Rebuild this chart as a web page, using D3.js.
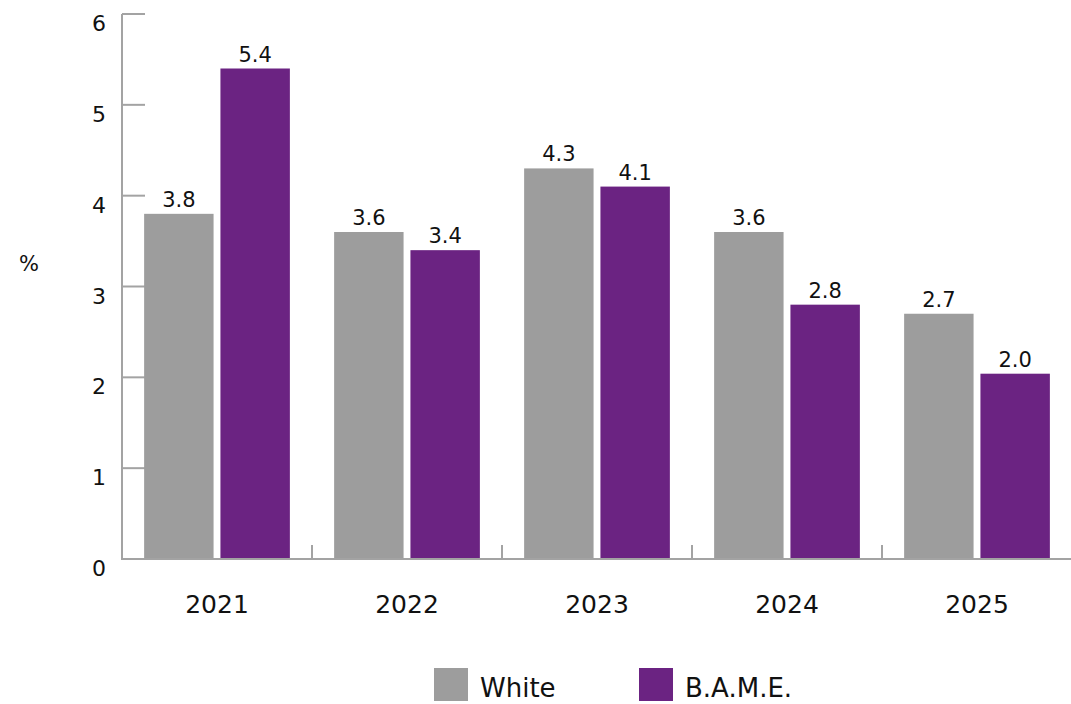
<!DOCTYPE html>
<html>
<head>
<meta charset="utf-8">
<script src="https://cdn.jsdelivr.net/npm/d3@7"></script>
<style>
  body { margin: 0; background: #fff; }
  text { font-family: "DejaVu Sans", "Verdana", sans-serif; fill: #111; }
</style>
</head>
<body>
<svg id="svg" width="1071" height="704"></svg>
<script>
const years = ["2021", "2022", "2023", "2024", "2025"];
const white = [3.8, 3.6, 4.3, 3.6, 2.7];
const bame = [5.4, 3.4, 4.1, 2.8, 2.04];
const seriesNames = ["White", "B.A.M.E."];
const seriesColors = ["#9d9d9d", "#6b2382"];
const yTicks = [0, 1, 2, 3, 4, 5, 6];

const svg = d3.select("#svg");
const plotLeft = 122, plotRight = 1072, plotTop = 14, plotBottom = 559;

const x = d3.scaleBand().domain(years).range([plotLeft, plotRight]);
const sub = d3.scaleBand().domain(seriesNames).range([0, x.bandwidth()])
  .paddingInner(0.09).paddingOuter(0.29);
const y = d3.scaleLinear().domain([0, 6]).range([plotBottom, plotTop]);

const axisColor = "#a3a3a3";

// y ticks (drawn inward)
svg.append("g").selectAll("line").data(yTicks).join("line")
  .attr("x1", plotLeft).attr("x2", plotLeft + 23)
  .attr("y1", d => y(d)).attr("y2", d => y(d))
  .attr("stroke", axisColor).attr("stroke-width", 2);

svg.append("g").selectAll("text").data(yTicks).join("text")
  .attr("x", 106).attr("y", d => y(d) + 17)
  .attr("text-anchor", "end").attr("font-size", 22)
  .text(d => d);

svg.append("text").attr("x", 19).attr("y", 271)
  .attr("font-size", 21).text("%");

// x boundary ticks
svg.append("g").selectAll("line").data(years.slice(1)).join("line")
  .attr("x1", d => x(d)).attr("x2", d => x(d))
  .attr("y1", plotBottom - 14).attr("y2", plotBottom)
  .attr("stroke", axisColor).attr("stroke-width", 2);

const rows = years.map((yr, i) => ({ year: yr, vals: [white[i], bame[i]] }));

const groups = svg.append("g").selectAll("g").data(rows).join("g")
  .attr("transform", d => `translate(${x(d.year)},0)`);

groups.selectAll("rect").data(d => d.vals.map((v, j) => ({ v, j }))).join("rect")
  .attr("x", d => sub(seriesNames[d.j]))
  .attr("width", sub.bandwidth())
  .attr("y", d => y(d.v))
  .attr("height", d => y(0) - y(d.v))
  .attr("fill", d => seriesColors[d.j]);

groups.selectAll("text.val").data(d => d.vals.map((v, j) => ({ v, j }))).join("text")
  .attr("class", "val")
  .attr("x", d => sub(seriesNames[d.j]) + sub.bandwidth() / 2)
  .attr("y", d => y(d.v) - 7)
  .attr("text-anchor", "middle").attr("font-size", 21)
  .text(d => d.v.toFixed(1));

// axis lines
svg.append("line").attr("x1", plotLeft).attr("x2", plotLeft)
  .attr("y1", plotTop).attr("y2", plotBottom + 1)
  .attr("stroke", axisColor).attr("stroke-width", 2);
svg.append("line").attr("x1", plotLeft - 1).attr("x2", plotRight)
  .attr("y1", plotBottom).attr("y2", plotBottom)
  .attr("stroke", axisColor).attr("stroke-width", 2);

// x labels
svg.append("g").selectAll("text").data(years).join("text")
  .attr("x", d => x(d) + x.bandwidth() / 2).attr("y", 613)
  .attr("text-anchor", "middle").attr("font-size", 25)
  .text(d => d);

// legend
const legendX = [434, 639];
const legend = svg.append("g").selectAll("g").data(seriesNames).join("g")
  .attr("transform", (d, i) => `translate(${legendX[i]},668)`);
legend.append("rect").attr("width", 34).attr("height", 33)
  .attr("fill", (d, i) => seriesColors[i]);
legend.append("text").attr("x", 46).attr("y", 29)
  .attr("font-size", 26).text(d => d);
</script>
</body>
</html>
